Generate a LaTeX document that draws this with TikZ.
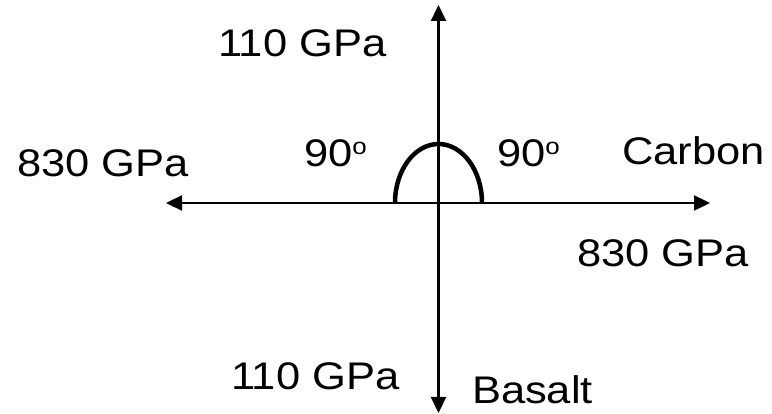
\documentclass[tikz,border=0pt]{standalone}
\usepackage{fontspec}
\setmainfont{Liberation Sans}
\usepackage{graphicx}
\usetikzlibrary{arrows.meta}
\newcommand{\lbl}[1]{\scalebox{1.13}[1]{\fontsize{38.5}{41}\selectfont #1}}
\newcommand{\degsup}{\raisebox{12.5pt}{\fontsize{23}{23}\selectfont o}}
\begin{document}
\begin{tikzpicture}[x=1pt,y=1pt,
  axis/.style={line width=2.3pt,{Triangle[length=16pt,width=15pt]}-{Triangle[length=16pt,width=15pt]}},
  anglearc/.style={line width=4.5pt},
  lab/.style={anchor=base west,inner sep=0pt,outer sep=0pt}]
\useasboundingbox (0,0) rectangle (772,-414);
\coordinate (top) at (438.5,-5);
\coordinate (bot) at (438.5,-413);
\coordinate (lft) at (166,-203);
\coordinate (rgt) at (710,-203);
\draw[axis] (top) -- (bot);
\draw[axis] (lft) -- (rgt);
\coordinate (arcstart) at (395,-203);
\draw[anglearc] (arcstart) arc[start angle=180,end angle=0,x radius=43.5,y radius=59];
\node[lab] (ytop) at (218,-57) {\lbl{110 GPa}};
\node[lab] (xleft) at (17,-177) {\lbl{830 GPa}};
\node[lab] (xright) at (577,-267) {\lbl{830 GPa}};
\node[lab] (carbon) at (622,-165) {\lbl{Carbon}};
\node[lab] (ybot) at (231,-389) {\lbl{110 GPa}};
\node[lab] (basalt) at (472,-403) {\lbl{Basalt}};
\node[lab] (angl) at (304,-167) {\lbl{90\degsup}};
\node[lab] (angr) at (497,-167) {\lbl{90\degsup}};
\end{tikzpicture}
\end{document}
